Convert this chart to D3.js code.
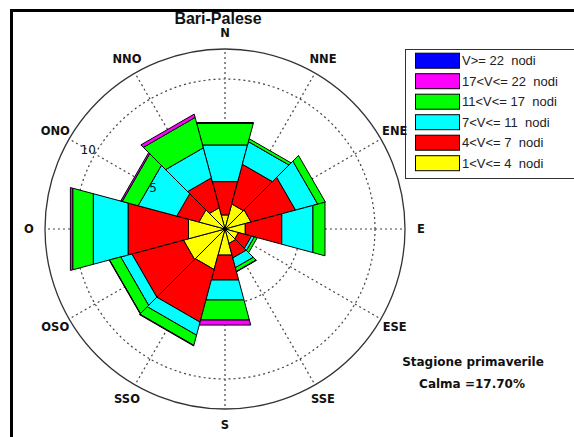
<!DOCTYPE html>
<html><head><meta charset="utf-8">
<script src="https://cdn.jsdelivr.net/npm/d3@7"></script>
<style>body{margin:0;background:#fff;overflow:hidden}</style>
</head><body>
<svg id="c" width="574" height="437"></svg>
<script>
// ---- data ----
const directions = ["N","NNE","ENE","E","ESE","SSE","S","SSO","OSO","O","ONO","NNO"];
const directionAngles = [0,30,60,90,120,150,180,210,240,270,300,330];
const classLabels = ["V>= 22  nodi","17<V<= 22  nodi","11<V<= 17  nodi","7<V<= 11  nodi","4<V<= 7  nodi","1<V<= 4  nodi"];
const classKeys = ["v22","v17_22","v11_17","v7_11","v4_7","v1_4"];
const classColors = ["#0000ff","#ff00ff","#00ff00","#00ffff","#ff0000","#ffff00"];
// frequency (%) for each speed class and direction
const v1_4   = [0.97,1.73,1.80,1.40,0.93,1.00,1.80,2.80,2.87,2.52,1.80,1.47];
const v4_7   = [2.30,2.74,3.07,2.52,0.90,1.00,1.72,3.63,3.56,4.17,1.53,2.06];
const v7_11  = [2.53,1.56,1.53,2.15,0.20,0.67,1.38,0.90,0.77,2.40,2.67,2.07];
const v11_17 = [1.49,0.20,0.53,0.83,0.20,0.26,1.38,0.70,0.77,1.42,1.10,2.10];
const v17_22 = [0.00,0.00,0.00,0.00,0.00,0.00,0.35,0.04,0.03,0.16,0.10,0.23];
const v22    = [0.06,0.00,0.00,0.00,0.00,0.03,0.00,0.00,0.00,0.00,0.00,0.00];
const ringTicks = [5, 10];
const rMax = 12;
const sectorWidth = 30;
const titleText = "Bari-Palese";
const seasonText = "Stagione primaverile";
const calmText = "Calma =17.70%";

// ---- build ----
const svg = d3.select("#c");
const cx = 225, cy = 229;
const r = d3.scaleLinear().domain([0, rMax]).range([0, 180]);
const rad = d => d * Math.PI / 180;
const pt = (rv, a) => [cx + r(rv) * Math.sin(rad(a)), cy - r(rv) * Math.cos(rad(a))];

// frame
svg.append("path").attr("d", "M11.5,437 L11.5,10.5 L574,10.5")
  .attr("fill","none").attr("stroke","#000").attr("stroke-width",3);

// legend (drawn beneath the direction labels)
const lg = svg.append("g");
lg.append("rect").attr("x",405.5).attr("y",49.5).attr("width",200).attr("height",129)
  .attr("fill","#fff").attr("stroke","#333").attr("stroke-width",1);
classLabels.forEach((lab,i) => {
  const yc = 60.7 + i*20.5;
  lg.append("rect").attr("x",415.5).attr("y",yc-7.5).attr("width",44).attr("height",15)
    .attr("fill",classColors[i]).attr("stroke","#000").attr("stroke-width",1);
  lg.append("text").attr("x",462).attr("y",yc).attr("dominant-baseline","central")
    .attr("font-family","Liberation Sans, Arial").attr("font-size",13).attr("fill","#222")
    .style("white-space","pre").attr("xml:space","preserve").text(lab);
});

// grid
const grid = svg.append("g");
ringTicks.forEach(t => {
  grid.append("circle").attr("cx",cx).attr("cy",cy).attr("r",r(t))
    .attr("fill","none").attr("stroke","#444").attr("stroke-width",1.2).attr("stroke-dasharray","2,3");
});
directionAngles.forEach(a => {
  const p = pt(rMax, a);
  grid.append("line").attr("x1",cx).attr("y1",cy).attr("x2",p[0]).attr("y2",p[1])
    .attr("stroke","#444").attr("stroke-width",1.2).attr("stroke-dasharray","2,3");
});
grid.append("circle").attr("cx",cx).attr("cy",cy).attr("r",r(rMax))
  .attr("fill","none").attr("stroke","#333").attr("stroke-width",1.3);

// bars
const table = directions.map((d,i) => ({dir:d, angle:directionAngles[i],
  v1_4:v1_4[i], v4_7:v4_7[i], v7_11:v7_11[i], v11_17:v11_17[i], v17_22:v17_22[i], v22:v22[i]}));
const stackKeys = ["v1_4","v4_7","v7_11","v11_17","v17_22","v22"];
const stacked = d3.stack().keys(stackKeys)(table);
const line = d3.line();
const bars = svg.append("g");
stacked.forEach(layer => {
  const color = classColors[classKeys.indexOf(layer.key)];
  layer.forEach(seg => {
    const [y0, y1] = seg;
    if (y1 - y0 <= 0) return;
    const a = seg.data.angle, a0 = a - sectorWidth/2, a1 = a + sectorWidth/2;
    const pts = y0 === 0 ? [[cx,cy], pt(y1,a0), pt(y1,a1)]
                         : [pt(y0,a0), pt(y1,a0), pt(y1,a1), pt(y0,a1)];
    bars.append("path").attr("d", line(pts) + "Z")
      .attr("fill", color).attr("stroke","#000").attr("stroke-width",1).attr("stroke-linejoin","round");
  });
});
svg.append("circle").attr("cx",cx).attr("cy",cy).attr("r",2).attr("fill","#000");

// ring labels
ringTicks.forEach(t => {
  const p = [cx + (r(t)+8)*Math.sin(rad(300)), cy - (r(t)+8)*Math.cos(rad(300))];
  svg.append("text").attr("x",p[0]).attr("y",p[1]).attr("text-anchor","middle")
    .attr("dominant-baseline","central").attr("font-family","DejaVu Sans").attr("font-size",12)
    .attr("fill","#111").text(t);
});

// direction labels
directions.forEach((d,i) => {
  const a = directionAngles[i];
  const x = cx + 196*Math.sin(rad(a)), y = cy - 196*Math.cos(rad(a));
  svg.append("text").attr("x",x).attr("y",y).attr("text-anchor","middle")
    .attr("dominant-baseline","central").attr("font-family","DejaVu Sans").attr("font-weight","bold")
    .attr("font-size",11.5).attr("fill","#111").text(d);
});

// title
svg.append("text").attr("x",218).attr("y",24).attr("text-anchor","middle")
  .attr("font-family","Liberation Sans, Arial").attr("font-weight","bold").attr("font-size",16)
  .attr("fill","#111").text(titleText);

// annotations
svg.append("text").attr("x",473).attr("y",366).attr("text-anchor","middle")
  .attr("font-family","DejaVu Sans").attr("font-weight","bold").attr("font-size",12)
  .attr("fill","#111").text(seasonText);
svg.append("text").attr("x",472).attr("y",388).attr("text-anchor","middle")
  .attr("font-family","DejaVu Sans").attr("font-weight","bold").attr("font-size",12)
  .attr("fill","#111").text(calmText);
</script>
</body></html>
